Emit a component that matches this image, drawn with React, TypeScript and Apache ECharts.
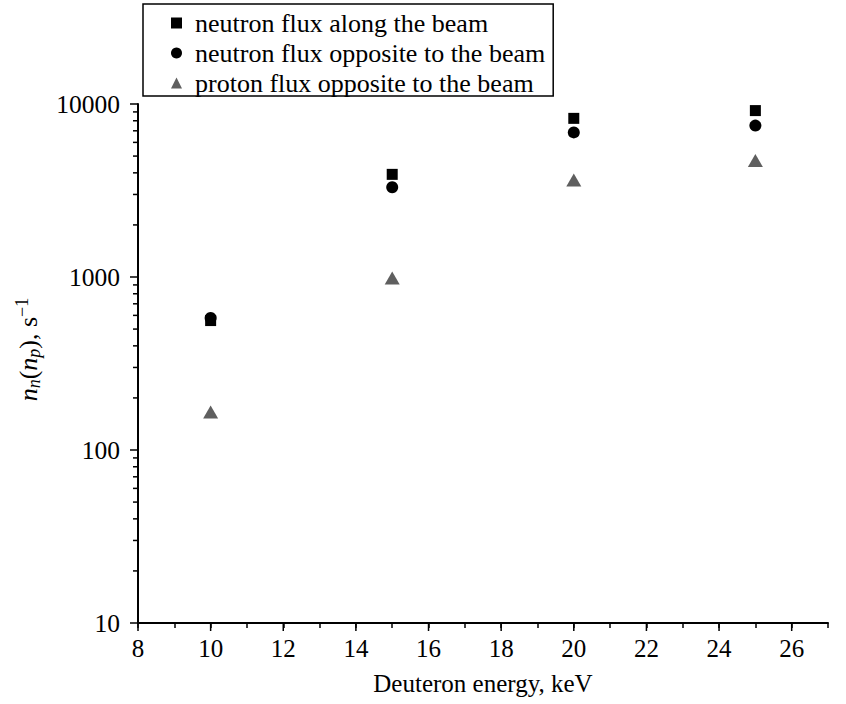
import React, { useEffect, useRef } from "react";
import * as echarts from "echarts";

const energies = [10, 15, 20, 25];
const neutronAlong = [560, 3920, 8260, 9160];
const neutronOpposite = [580, 3300, 6850, 7500];
const protonOpposite = [166, 986, 3640, 4710];
const seriesNames = [
  "neutron flux along the beam",
  "neutron flux opposite to the beam",
  "proton flux opposite to the beam",
];
const xMajorTicks = [8, 10, 12, 14, 16, 18, 20, 22, 24, 26];
const yMinorTicks = [
  20, 30, 40, 50, 60, 70, 80, 90,
  200, 300, 400, 500, 600, 700, 800, 900,
  2000, 3000, 4000, 5000, 6000, 7000, 8000, 9000,
];

const FONT = "'Liberation Serif', 'Times New Roman', Times, serif";

export default function App() {
  const ref = useRef<HTMLDivElement>(null);
  useEffect(() => {
    if (!ref.current) return;
    document.body.style.margin = "0";
    document.body.style.overflow = "hidden";
    const chart = echarts.init(ref.current, null, { renderer: "svg" });
    const pair = (arr: number[]) => energies.map((e, i) => [e, arr[i]]);
    chart.setOption({
      animation: false,
      textStyle: { fontFamily: FONT },
      grid: { left: 138, right: 18, top: 104, bottom: 81 },
      legend: {
        orient: "vertical",
        left: 143,
        top: 4,
        padding: [6, 8, 0, 28],
        itemGap: 4,
        itemWidth: 11,
        itemHeight: 11,
        borderColor: "#000",
        borderWidth: 1.5,
        data: seriesNames,
        textStyle: {
          fontFamily: FONT,
          fontSize: 26,
          color: "#000",
          lineHeight: 26,
          padding: [0, 0, 0, 8],
        },
      },
      xAxis: {
        type: "value",
        min: 8,
        max: 27,
        interval: 1,
        name: "Deuteron energy, keV",
        nameLocation: "middle",
        nameGap: 48,
        nameTextStyle: { fontFamily: FONT, fontSize: 25, color: "#000" },
        axisLine: { show: true, lineStyle: { color: "#000", width: 2 } },
        axisTick: { show: true, inside: false, length: 5, lineStyle: { color: "#000", width: 1.5 } },
        axisLabel: {
          fontFamily: FONT,
          fontSize: 25,
          color: "#000",
          margin: 13,
          formatter: (v: number) => (v % 2 === 0 && v <= 26 ? String(v) : ""),
        },
        splitLine: { show: false },
      },
      yAxis: {
        type: "log",
        logBase: 10,
        min: 10,
        max: 10000,
        name: "{i|n}{s|n}{r|(}{i|n}{s|p}{r|), s}{u|−1}",
        nameLocation: "middle",
        nameRotate: 90,
        nameGap: 95,
        nameTextStyle: {
          fontFamily: FONT,
          fontSize: 26,
          color: "#000",
          padding: [0, 0, 0, 28],
          rich: {
            i: { fontFamily: FONT, fontSize: 26, fontStyle: "italic", color: "#000", lineHeight: 30 },
            r: { fontFamily: FONT, fontSize: 26, color: "#000", lineHeight: 30 },
            s: { fontFamily: FONT, fontSize: 18, fontStyle: "italic", color: "#000", lineHeight: 18, padding: [12, 0, 0, 0] },
            u: { fontFamily: FONT, fontSize: 18, color: "#000", lineHeight: 18, padding: [0, 0, 12, 0] },
          },
        },
        axisLine: { show: true, lineStyle: { color: "#000", width: 2 } },
        axisTick: { show: true, inside: false, length: 8, lineStyle: { color: "#000", width: 1.5 } },
        axisLabel: {
          fontFamily: FONT,
          fontSize: 25.5,
          color: "#000",
          margin: 18,
          formatter: (v: number) => String(Math.round(v)),
        },
        splitLine: { show: false },
      },
      series: [
        {
          name: seriesNames[0],
          type: "scatter",
          symbol: "rect",
          symbolSize: 11,
          itemStyle: { color: "#000", opacity: 1 },
          data: pair(neutronAlong),
          z: 3,
        },
        {
          name: seriesNames[1],
          type: "scatter",
          symbol: "circle",
          symbolSize: 12,
          itemStyle: { color: "#000", opacity: 1 },
          data: pair(neutronOpposite),
          z: 4,
        },
        {
          name: seriesNames[2],
          type: "scatter",
          symbol: "triangle",
          symbolSize: [15, 13],
          itemStyle: { color: "#5f5f5f", opacity: 1 },
          data: pair(protonOpposite),
          z: 5,
        },
        {
          name: "yMinor",
          type: "custom",
          silent: true,
          clip: false,
          data: yMinorTicks.map((v) => [8, v]),
          renderItem: (params: any, api: any) => {
            const p = api.coord([api.value(0), api.value(1)]);
            return {
              type: "line",
              shape: { x1: p[0] - 5, y1: p[1], x2: p[0], y2: p[1] },
              style: { stroke: "#000", lineWidth: 1.5 },
            };
          },
        },
        {
          name: "xMajor",
          type: "custom",
          silent: true,
          clip: false,
          data: xMajorTicks.map((v) => [v, 10]),
          renderItem: (params: any, api: any) => {
            const p = api.coord([api.value(0), api.value(1)]);
            return {
              type: "line",
              shape: { x1: p[0], y1: p[1], x2: p[0], y2: p[1] + 8 },
              style: { stroke: "#000", lineWidth: 1.5 },
            };
          },
        },
      ],
    });
    return () => chart.dispose();
  }, []);
  return <div ref={ref} style={{ width: 846, height: 704 }} />;
}
